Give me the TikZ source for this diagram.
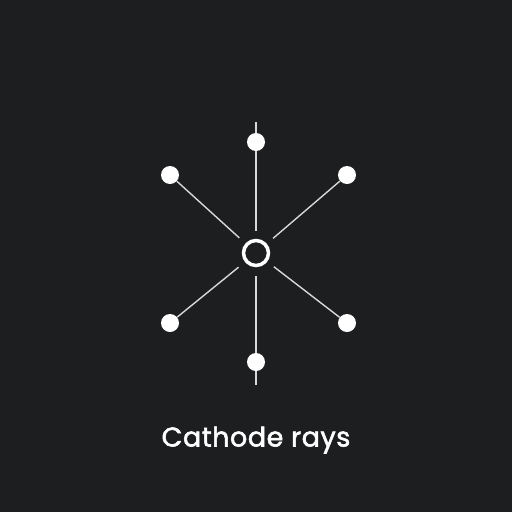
\documentclass[tikz,border=0pt]{standalone}
\usepackage{fontspec}
\setmainfont{Poppins}
\newfontfamily\labelfont{Poppins}[FakeBold=2,LetterSpace=2]
\usetikzlibrary{backgrounds}
\definecolor{bgdark}{HTML}{1C1E20}
\definecolor{raygray}{HTML}{D8D8D8}
\tikzset{
cathode/.style={
  circle,
  draw=white,
  line width=3.5pt,
  minimum size=25pt,
  inner sep=0pt,
  outer sep=10pt
},
electron/.style={circle,fill=white,minimum size=18pt,inner sep=0pt},
ray/.style={draw=raygray,line width=1.4pt}
}

\begin{document}
\begin{tikzpicture}[x=1pt,y=-1pt]
\useasboundingbox (0,0) rectangle (512,512);
\node (cat) [cathode] at (256,253) {};
% the electrons
\node (e1) [electron] at (256,142) {};
\node (e2) [electron] at (347,175) {};
\node (e3) [electron] at (347,323) {};
\node (e4) [electron] at (256,362) {};
\node (e5) [electron] at (170,323) {};
\node (e6) [electron] at (170,175) {};
\coordinate (top) at (256,122);
\coordinate (bot) at (256,385);
% the rays
\begin{scope}[on background layer]
\fill[bgdark] (0,0) rectangle (512,512);
\draw[ray] (top) -- (cat);
\draw[ray] (bot) -- (cat);
\foreach \x in {2,3,5,6}
{
  \draw[ray] (e\x) -- (cat);
}
\end{scope}
\node (lbl) [text=white,font=\labelfont\fontsize{27}{30}\selectfont] at (256,440) {Cathode rays};
\end{tikzpicture}
\end{document}
